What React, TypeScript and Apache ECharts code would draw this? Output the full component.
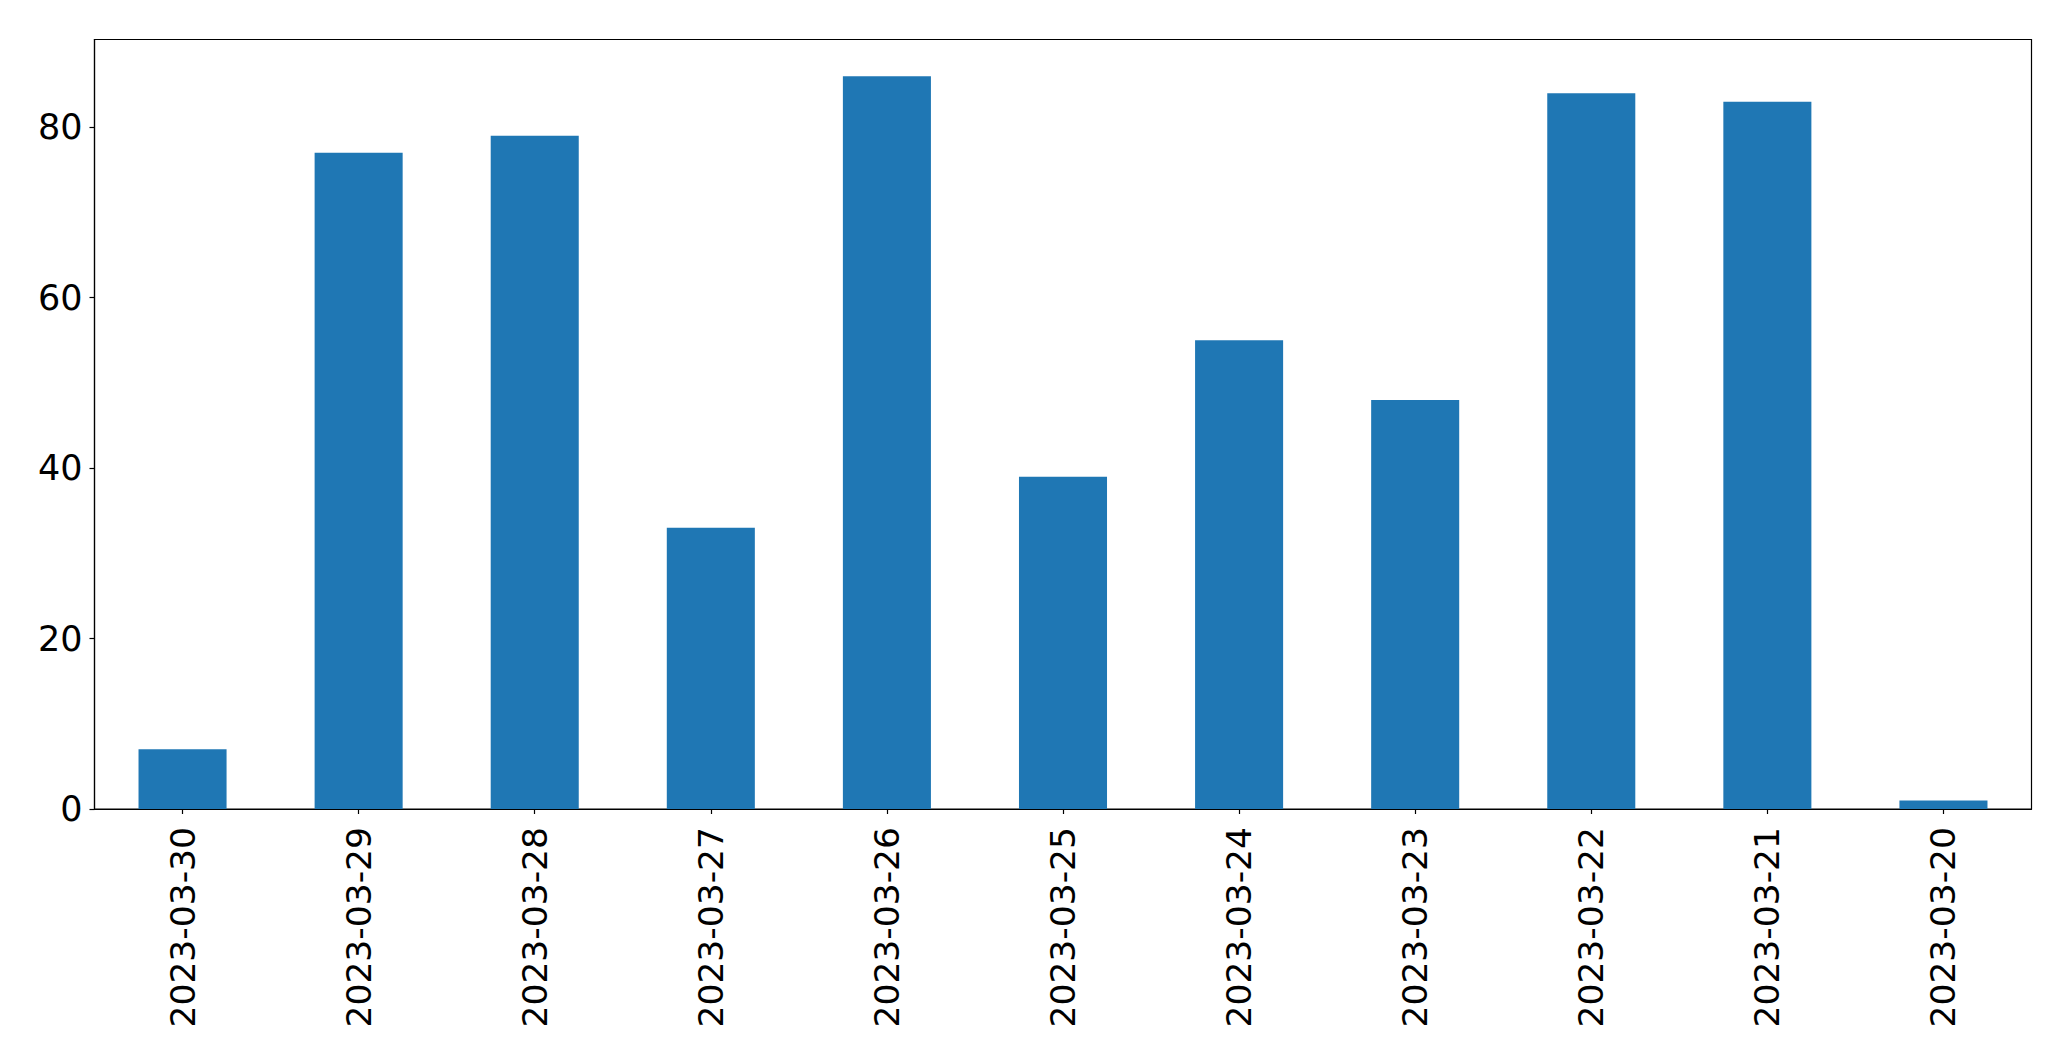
import React, { useEffect, useRef } from "react";
import * as echarts from "echarts";

const categories = [
  "2023-03-30",
  "2023-03-29",
  "2023-03-28",
  "2023-03-27",
  "2023-03-26",
  "2023-03-25",
  "2023-03-24",
  "2023-03-23",
  "2023-03-22",
  "2023-03-21",
  "2023-03-20",
];
const values = [7, 77, 79, 33, 86, 39, 55, 48, 84, 83, 1];
const yMin = 0;
const yMax = 90.3;
const yInterval = 20;

export default function App() {
  const ref = useRef<HTMLDivElement>(null);
  useEffect(() => {
    if (!ref.current) return;
    const chart = echarts.init(ref.current, undefined, { renderer: "svg" });
    const font = "DejaVu Sans";
    chart.setOption({
      animation: false,
      backgroundColor: "#ffffff",
      grid: {
        left: 94.5,
        top: 39.5,
        right: 39.5,
        bottom: 252,
        show: true,
        borderColor: "#000000",
        borderWidth: 1.2,
        backgroundColor: "transparent",
      },
      xAxis: {
        type: "category",
        data: categories,
        boundaryGap: true,
        axisLine: { show: true, lineStyle: { color: "#000", width: 1.2 } },
        axisTick: { show: true, alignWithLabel: true, length: 5, lineStyle: { color: "#000", width: 1.2 } },
        axisLabel: {
          rotate: 90,
          margin: 18,
          color: "#000",
          fontSize: 34.5,
          fontFamily: font,
          interval: 0,
        },
        splitLine: { show: false },
      },
      yAxis: {
        type: "value",
        min: yMin,
        max: yMax,
        interval: yInterval,
        axisLine: { show: true, lineStyle: { color: "#000", width: 1.2 } },
        axisTick: { show: true, length: 5, lineStyle: { color: "#000", width: 1.2 } },
        axisLabel: {
          color: "#000",
          fontSize: 35,
          fontFamily: font,
          margin: 12,
          showMaxLabel: false,
        },
        splitLine: { show: false },
      },
      series: [
        {
          type: "bar",
          data: values,
          barCategoryGap: "50%",
          itemStyle: { color: "#1f77b4" },
        },
      ],
    });
    return () => chart.dispose();
  }, []);
  return (
    <div
      ref={ref}
      style={{ position: "fixed", left: 0, top: 0, width: 2071, height: 1061, background: "#fff" }}
    />
  );
}
